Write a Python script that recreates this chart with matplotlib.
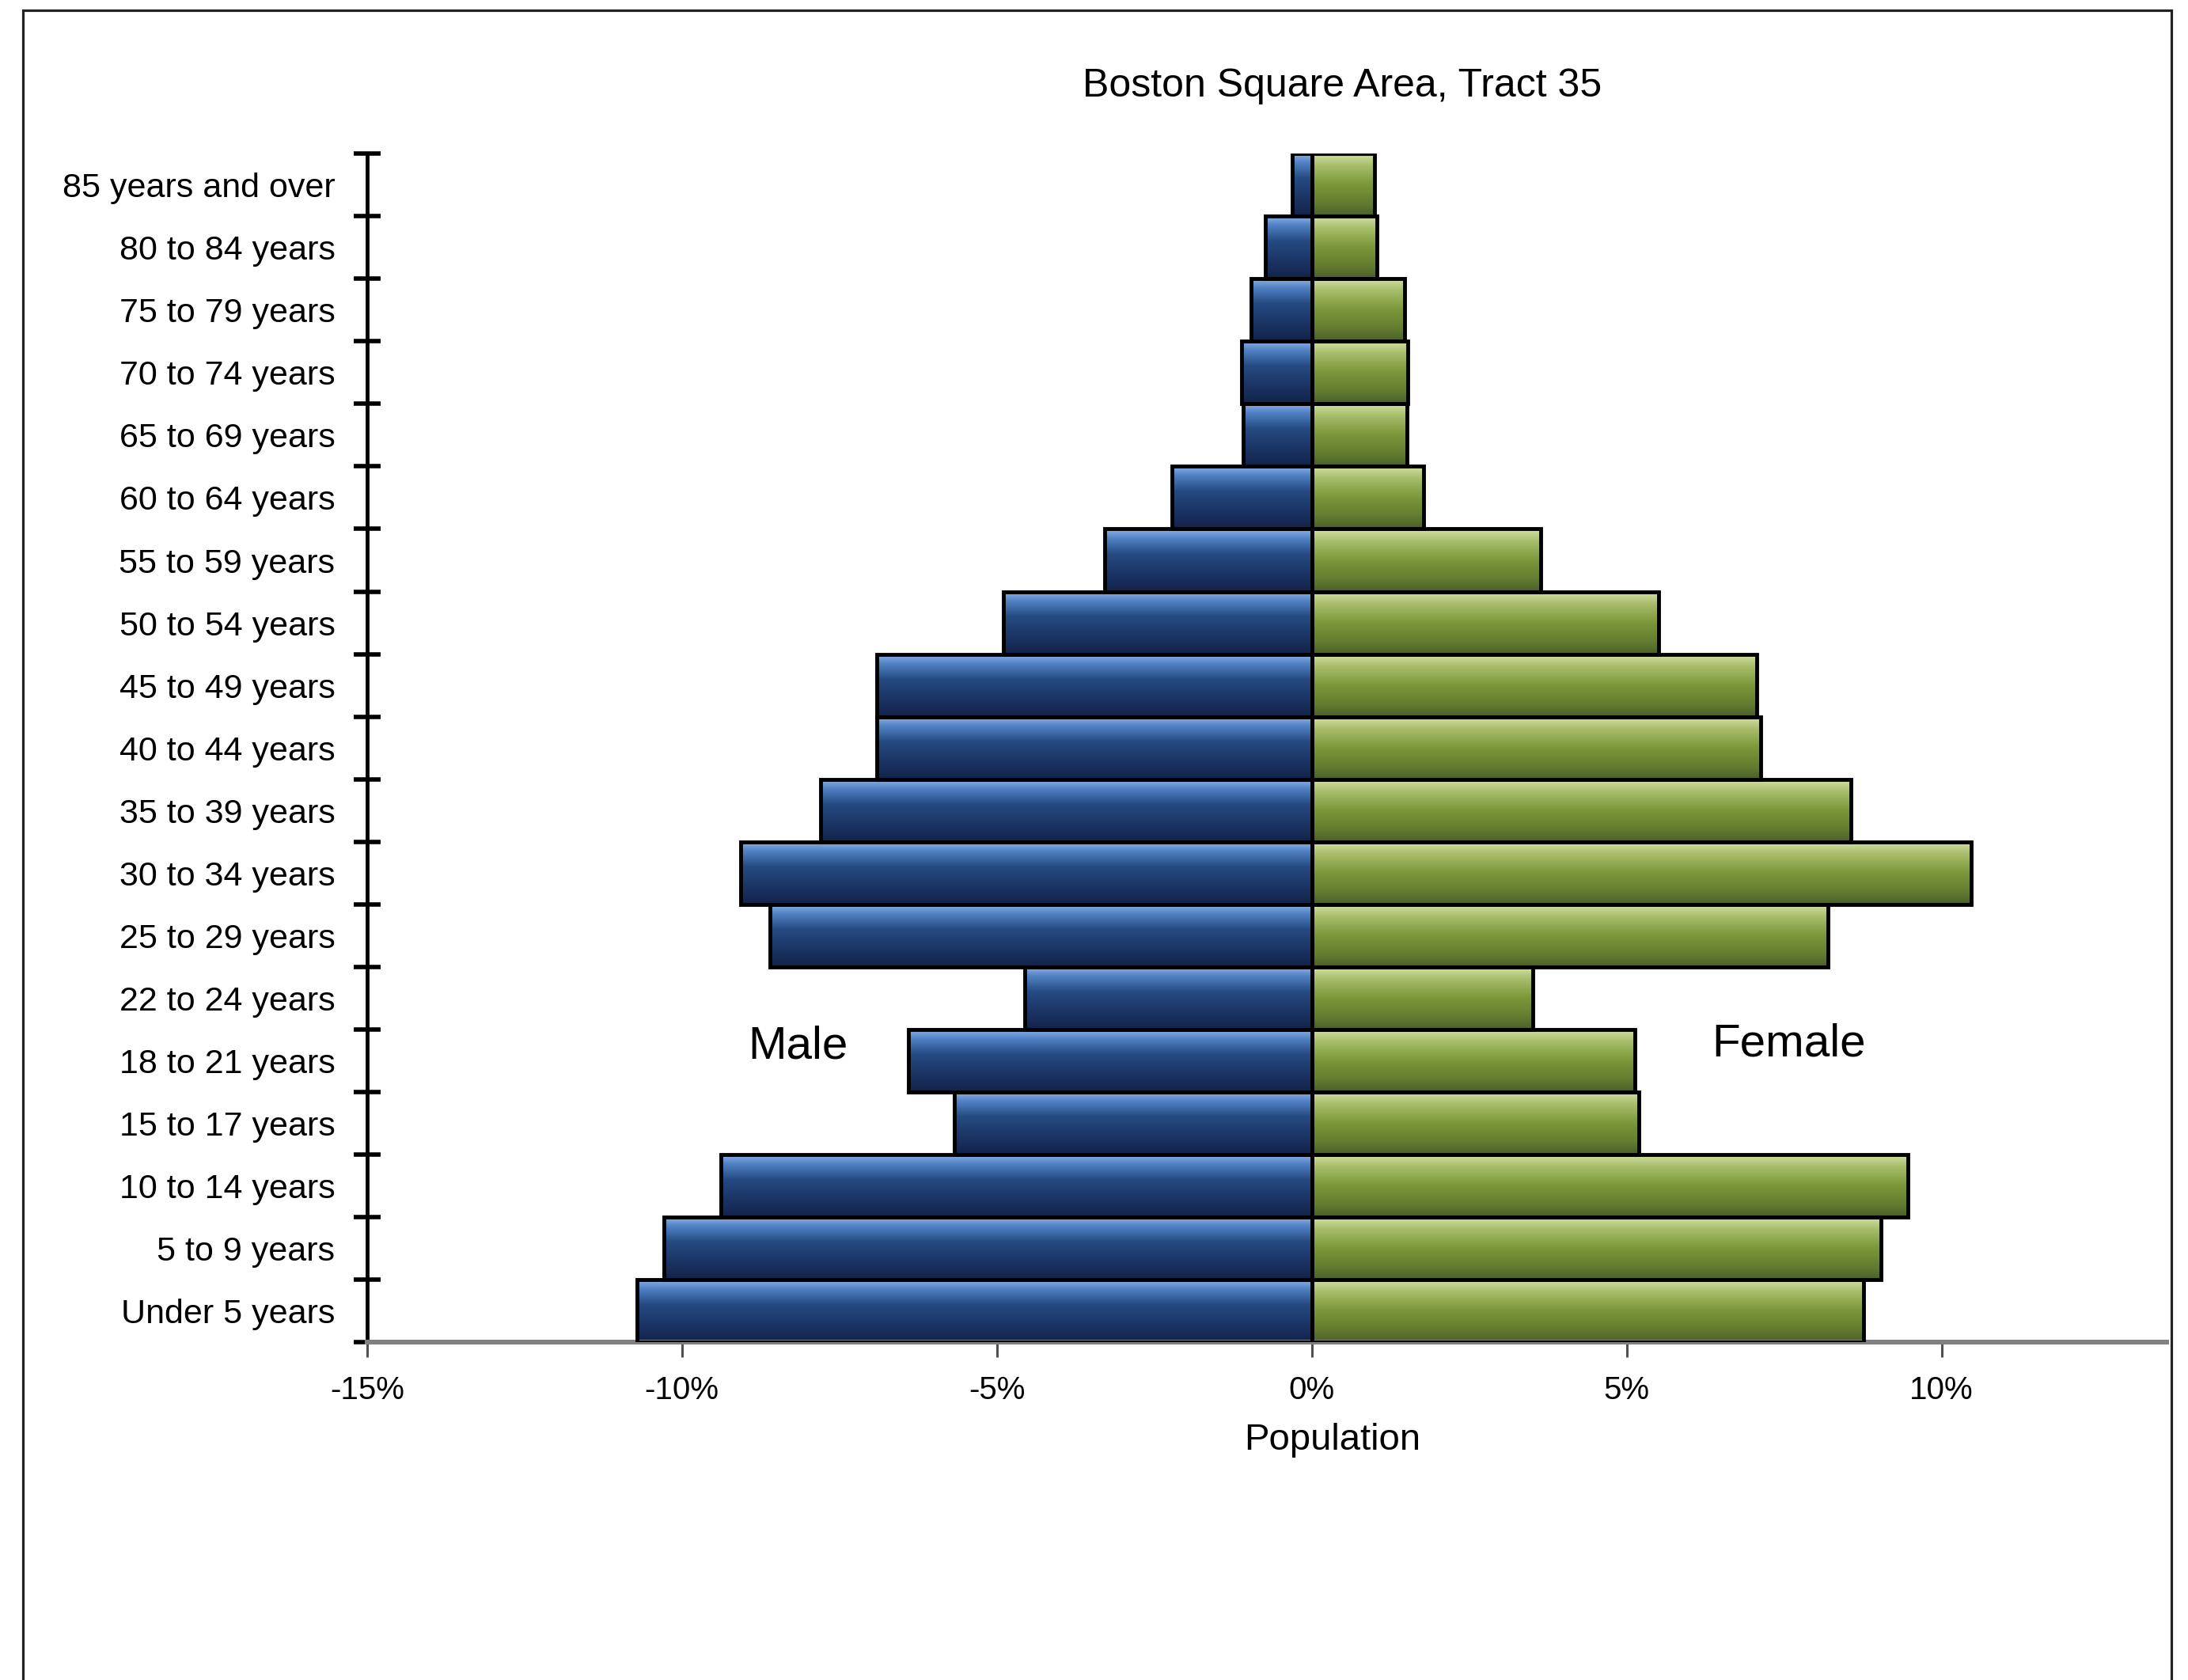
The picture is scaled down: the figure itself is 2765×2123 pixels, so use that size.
import matplotlib.pyplot as plt
import numpy as np
from matplotlib.colors import LinearSegmentedColormap
from matplotlib.patches import Rectangle

plt.rcParams['font.family'] = ['Liberation Sans', 'DejaVu Sans']

# age groups from bottom (youngest) to top (oldest)
age_groups = ['Under 5 years', '5 to 9 years', '10 to 14 years', '15 to 17 years',
              '18 to 21 years', '22 to 24 years', '25 to 29 years', '30 to 34 years',
              '35 to 39 years', '40 to 44 years', '45 to 49 years', '50 to 54 years',
              '55 to 59 years', '60 to 64 years', '65 to 69 years', '70 to 74 years',
              '75 to 79 years', '80 to 84 years', '85 years and over']

# share of total population, percent
male_pct = [10.71, 10.29, 9.38, 5.67, 6.40, 4.56, 8.60, 9.07, 7.80, 6.91,
            6.91, 4.89, 3.29, 2.22, 1.09, 1.11, 0.96, 0.73, 0.31]
female_pct = [8.76, 9.04, 9.47, 5.20, 5.13, 3.51, 8.20, 10.47, 8.56, 7.13,
              7.07, 5.51, 3.64, 1.78, 1.51, 1.53, 1.47, 1.04, 1.00]

xtick_vals = [-15, -10, -5, 0, 5, 10]
xtick_labels = ['%d%%' % v for v in xtick_vals]

blue = LinearSegmentedColormap.from_list(
    'blue', [(0.0, '#92b3e6'), (0.15, '#5283c6'), (0.4, '#254b82'),
             (0.75, '#1a3262'), (1.0, '#13234a')])
green = LinearSegmentedColormap.from_list(
    'green', [(0.0, '#d5e2a8'), (0.2, '#a8bd6a'), (0.5, '#7b9739'),
              (0.8, '#637c30'), (1.0, '#4c5f28')])

fig = plt.figure(figsize=(27.65, 21.23), dpi=100)
ax = fig.add_axes([0.1677, 0.2009, 0.8227, 0.7077])

y = np.arange(len(age_groups))
grad = np.linspace(0, 1, 128).reshape(-1, 1)


def shaded_bars(vals, cmap):
    bars = ax.barh(y, vals, height=1.0, facecolor='none', edgecolor='black',
                   linewidth=3.5, zorder=3)
    for b in bars:
        x0, y0 = b.get_x(), b.get_y()
        im = ax.imshow(grad, cmap=cmap, aspect='auto', interpolation='bilinear',
                       extent=[x0, x0 + b.get_width(), y0, y0 + b.get_height()],
                       zorder=2)
        im.set_clip_path(b)


shaded_bars(-np.array(male_pct), blue)
shaded_bars(np.array(female_pct), green)

ax.set_xlim(-15, 13.58)
ax.set_ylim(-0.5, len(age_groups) - 0.5)

for s in ['top', 'right']:
    ax.spines[s].set_visible(False)
ax.spines['left'].set_color('black')
ax.spines['left'].set_linewidth(3.5)
ax.spines['bottom'].set_color('#808080')
ax.spines['bottom'].set_linewidth(4.3)

# category boundaries get the crossing ticks, labels sit at the centres
ax.set_yticks(np.arange(-0.5, len(age_groups), 1.0))
ax.set_yticklabels([])
ax.set_yticks(y, minor=True)
ax.set_yticklabels(age_groups, minor=True)
ax.tick_params(axis='y', which='major', direction='inout', length=24, width=4,
               color='black')
ax.tick_params(axis='y', which='minor', length=0, pad=29, labelsize=31)

ax.set_xticks(xtick_vals)
ax.set_xticklabels(xtick_labels)
ax.tick_params(axis='x', direction='out', length=14, width=2.2, color='#505050',
               labelsize=29, pad=16)

ax.text(-8.16, 4.23, 'Male', fontsize=42, ha='center', va='center')
ax.text(7.58, 4.27, 'Female', fontsize=42, ha='center', va='center')

fig.text(0.6135, 0.9487, 'Boston Square Area, Tract 35', fontsize=36,
         ha='center', va='center')
fig.text(0.609, 0.1427, 'Population', fontsize=34, ha='center', va='center')

# outer frame, open at the bottom edge
frame = Rectangle((29 / 2765, -0.05), (2744 - 29) / 2765, 1 - 13 / 2123 + 0.05,
                  transform=fig.transFigure, fill=False, edgecolor='#222222',
                  linewidth=2.3, clip_on=False)
fig.add_artist(frame)

fig.savefig('out.png', dpi=100)
